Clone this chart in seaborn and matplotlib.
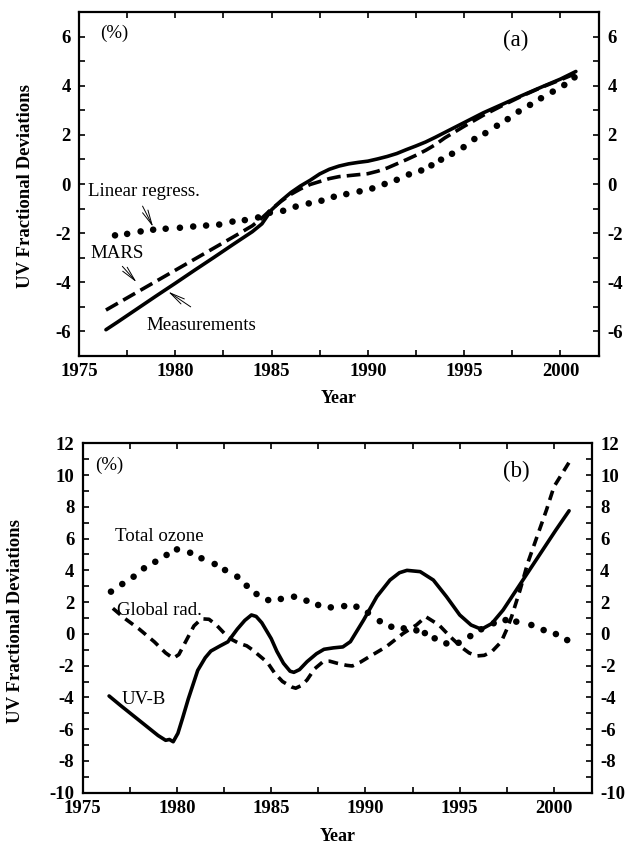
import numpy as np
import pandas as pd
import seaborn as sns
import matplotlib
matplotlib.use("Agg")
from matplotlib import pyplot as plt
from matplotlib.ticker import MultipleLocator

sns.set_theme(style="ticks")
plt.rcParams['font.family'] = ['Liberation Serif', 'DejaVu Serif']
plt.rcParams['axes.unicode_minus'] = False

# ---- panel (a) data ----
meas_year = [1976.4, 1977, 1978, 1979, 1980, 1981, 1982, 1983, 1984, 1984.5, 1985,
             1985.5, 1986, 1986.5, 1987, 1987.5, 1988, 1988.5, 1989, 1989.5, 1990,
             1990.5, 1991, 1991.5, 1992, 1992.5, 1993, 1993.5, 1994, 1995, 1996,
             1997, 1998, 1999, 2000, 2000.8]
meas_val = [-5.93, -5.62, -5.09, -4.56, -4.04, -3.51, -2.99, -2.46, -1.94, -1.62, -1.05,
            -0.68, -0.35, -0.08, 0.15, 0.41, 0.60, 0.73, 0.82, 0.88, 0.93,
            1.02, 1.12, 1.24, 1.40, 1.55, 1.71, 1.90, 2.10, 2.50, 2.90,
            3.25, 3.60, 3.94, 4.27, 4.58]

mars_year = meas_year
mars_val = [-5.13, -4.86, -4.41, -3.96, -3.51, -3.06, -2.61, -2.16, -1.70, -1.38, -1.02,
            -0.70, -0.42, -0.20, -0.02, 0.10, 0.22, 0.30, 0.34, 0.38, 0.42,
            0.52, 0.65, 0.82, 0.99, 1.17, 1.37, 1.60, 1.88, 2.35, 2.80,
            3.20, 3.58, 3.93, 4.24, 4.50]

# linear regression shown as separate dots
linreg_year = [1976.87, 1977.5, 1978.2, 1978.85, 1979.5, 1980.24, 1980.93, 1981.6,
               1982.28, 1982.97, 1983.61, 1984.3, 1984.91, 1985.6, 1986.25, 1986.93,
               1987.59, 1988.23, 1988.88, 1989.57, 1990.23, 1990.87, 1991.5, 1992.13,
               1992.77, 1993.3, 1993.8, 1994.37, 1994.97, 1995.53, 1996.1, 1996.7,
               1997.26, 1997.83, 1998.42, 1998.99, 1999.6, 2000.2, 2000.73]
linreg_val = [-2.09, -2.03, -1.93, -1.86, -1.82, -1.78, -1.73, -1.69,
              -1.65, -1.53, -1.47, -1.36, -1.17, -1.09, -0.92, -0.79,
              -0.68, -0.52, -0.41, -0.30, -0.18, 0.00, 0.17, 0.39,
              0.55, 0.76, 0.99, 1.23, 1.50, 1.83, 2.07, 2.37,
              2.64, 2.95, 3.22, 3.49, 3.76, 4.03, 4.34]

# ---- panel (b) data ----
uvb_year = [1976.4, 1977, 1978, 1979, 1979.4, 1979.6, 1979.8, 1980.05, 1980.3, 1980.6,
            1981.1, 1981.5, 1981.8, 1982.3, 1982.7, 1983.2, 1983.6, 1983.95, 1984.2,
            1984.5, 1985.0, 1985.3, 1985.65, 1986.0, 1986.2, 1986.5, 1986.9, 1987.4,
            1987.8, 1988.3, 1988.8, 1989.2, 1989.9, 1990.6, 1991.3, 1991.8, 1992.2,
            1992.9, 1993.6, 1994.3, 1995.0, 1995.6, 1996.15, 1996.7, 1997.3, 1998.0,
            1998.7, 1999.4, 2000.1, 2000.8]
uvb_val = [-3.91, -4.50, -5.45, -6.40, -6.70, -6.65, -6.79, -6.26, -5.30, -4.10,
           -2.30, -1.50, -1.08, -0.75, -0.50, 0.30, 0.85, 1.19, 1.10,
           0.70, -0.30, -1.10, -1.85, -2.35, -2.42, -2.25, -1.75, -1.25,
           -0.97, -0.88, -0.82, -0.49, 0.87, 2.34, 3.39, 3.85, 4.00,
           3.92, 3.39, 2.34, 1.19, 0.56, 0.29, 0.65, 1.50, 2.76,
           4.02, 5.28, 6.54, 7.75]

glob_year = [1976.6, 1977.2, 1978.0, 1978.8, 1979.4, 1979.8, 1980.1, 1980.5, 1980.9,
             1981.3, 1981.7, 1982.1, 1982.5, 1982.9, 1983.3, 1983.7, 1984.0, 1984.4,
             1984.8, 1985.2, 1985.6, 1986.1, 1986.3, 1986.6, 1986.9, 1987.3, 1987.75,
             1988.1, 1988.5, 1989.0, 1989.3, 1989.7, 1990.2, 1991.1, 1992.0, 1992.7,
             1993.2, 1993.9, 1994.5, 1995.1, 1995.5, 1995.9, 1996.3, 1996.7, 1997.2,
             1997.5, 1997.75, 1998.2, 1998.6, 1999.1, 1999.6, 2000.0, 2000.8]
glob_val = [1.61, 1.00, 0.30, -0.50, -1.20, -1.54, -1.30, -0.40, 0.50,
            0.95, 0.92, 0.55, 0.05, -0.35, -0.60, -0.75, -1.00, -1.40,
            -1.80, -2.50, -3.00, -3.35, -3.42, -3.25, -2.90, -2.20, -1.75,
            -1.72, -1.85, -1.98, -2.02, -1.80, -1.44, -0.81, 0.03, 0.56,
            1.08, 0.56, -0.18, -0.85, -1.20, -1.39, -1.35, -1.12, -0.50,
            0.30, 1.08, 2.76, 4.44, 6.12, 7.80, 9.27, 10.80]

# total ozone shown as separate dots
ozone_year = [1976.5, 1977.1, 1977.7, 1978.25, 1978.85, 1979.45, 1980.0, 1980.7,
              1981.3, 1982.0, 1982.55, 1983.2, 1983.7, 1984.22, 1984.84, 1985.51,
              1986.21, 1986.87, 1987.49, 1988.16, 1988.87, 1989.52, 1990.13, 1990.76,
              1991.37, 1992.03, 1992.7, 1993.15, 1993.67, 1994.29, 1994.94, 1995.56,
              1996.14, 1996.8, 1997.43, 1998.0, 1998.8, 1999.45, 2000.1, 2000.7]
ozone_val = [2.66, 3.14, 3.60, 4.13, 4.54, 4.97, 5.32, 5.11,
             4.76, 4.40, 4.02, 3.60, 3.03, 2.51, 2.13, 2.20,
             2.34, 2.09, 1.82, 1.67, 1.75, 1.71, 1.33, 0.80,
             0.45, 0.35, 0.22, 0.05, -0.28, -0.60, -0.56, -0.14,
             0.29, 0.67, 0.87, 0.77, 0.56, 0.24, -0.01, -0.39]

xticks = [1975, 1980, 1985, 1990, 1995, 2000]

fig = plt.figure(figsize=(6.27, 8.46), dpi=100)
ax_a = fig.add_axes([0.126, 0.5792, 0.8293, 0.4066])
ax_b = fig.add_axes([0.1319, 0.0630, 0.8118, 0.4130])

lw = 2.6
dot_size = 22

# panel (a)
sns.lineplot(x=meas_year, y=meas_val, ax=ax_a, color='black', lw=lw,
             solid_capstyle='round')
sns.lineplot(x=mars_year, y=mars_val, ax=ax_a, color='black', lw=lw,
             linestyle=(0, (3.8, 1.7)))
sns.scatterplot(x=linreg_year, y=linreg_val, ax=ax_a, color='black', s=dot_size,
                edgecolor='none', linewidth=0)

# panel (b)
sns.lineplot(x=uvb_year, y=uvb_val, ax=ax_b, color='black', lw=lw,
             solid_capstyle='round')
sns.lineplot(x=glob_year, y=glob_val, ax=ax_b, color='black', lw=lw,
             linestyle=(0, (2.7, 1.8)))
sns.scatterplot(x=ozone_year, y=ozone_val, ax=ax_b, color='black', s=dot_size,
                edgecolor='none', linewidth=0)

for ax, ylim in [(ax_a, (-7, 7)), (ax_b, (-10, 12))]:
    ax.set_xlim(1975, 2002)
    ax.set_ylim(*ylim)
    ax.set_xticks(xticks)
    ax.xaxis.set_minor_locator(MultipleLocator(2.5))
    ax.yaxis.set_major_locator(MultipleLocator(2))
    ax.yaxis.set_minor_locator(MultipleLocator(1))
    ax.tick_params(which='both', direction='in', top=True, right=True,
                   labelright=True, width=1.2, length=4.5, color='black',
                   labelsize=13.5, labelcolor='black')
    ax.tick_params(axis='y', pad=6)
    ax.tick_params(axis='x', pad=5)
    for t in ax.yaxis.get_major_ticks() + ax.xaxis.get_major_ticks():
        t.label1.set_fontweight('bold')
        t.label2.set_fontweight('bold')
    for sp in ax.spines.values():
        sp.set_linewidth(1.6)
        sp.set_color('black')
    ax.set_xlabel('Year', fontsize=13, fontweight='bold', color='black')
    ax.set_ylabel('UV Fractional Deviations', fontsize=13.5, fontweight='bold',
                  color='black')
    ax.grid(False)

ax_a.xaxis.set_label_coords(0.5, -0.10)
ax_b.xaxis.set_label_coords(0.5, -0.10)
ax_a.yaxis.set_label_coords(-0.087, 0.494)
ax_b.yaxis.set_label_coords(-0.115, 0.49)

txt = dict(fontsize=13.6, color='black', va='center', ha='left')
arrow = dict(arrowstyle='->,head_length=0.9,head_width=0.18', lw=0.7, color='black',
             shrinkA=0, shrinkB=0)

# annotations (a)
ax_a.text(1976.09, 6.13, '(%)', **txt)
ax_a.text(1997.7, 5.86, '(a)', fontsize=16.5, color='black', va='center', ha='center')
ax_a.text(1975.48, -0.31, 'Linear regress.', **txt)
ax_a.text(1975.62, -2.82, 'MARS', **txt)
ax_a.text(1978.51, -5.74, 'Measurements', **txt)
ax_a.annotate('', xy=(1978.85, -1.75), xytext=(1978.3, -0.9), arrowprops=arrow)
ax_a.annotate('', xy=(1977.99, -4.0), xytext=(1977.25, -3.35), arrowprops=arrow)
ax_a.annotate('', xy=(1979.63, -4.38), xytext=(1980.8, -5.0), arrowprops=arrow)

# annotations (b)
ax_b.text(1975.64, 10.63, '(%)', **txt)
ax_b.text(1998.0, 10.21, '(b)', fontsize=16.5, color='black', va='center', ha='center')
ax_b.text(1976.73, 6.12, 'Total ozone', **txt)
ax_b.text(1976.83, 1.5, 'Global rad.', **txt)
ax_b.text(1977.05, -4.16, 'UV-B', **txt)

fig.savefig('out.png', dpi=100, facecolor='white')
